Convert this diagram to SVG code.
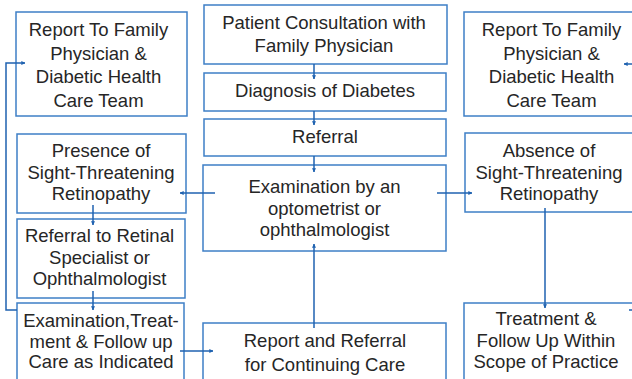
<svg xmlns="http://www.w3.org/2000/svg" width="632" height="379" viewBox="0 0 632 379">
<defs>
<marker id="ah" viewBox="0 0 6 6" refX="5.5" refY="3" markerWidth="4" markerHeight="4" orient="auto" markerUnits="userSpaceOnUse">
<path d="M0,0 L6,3 L0,6 Z" fill="#1f62b0"/>
</marker>
<style>
.box{fill:#ffffff;stroke:#3e7fc6;stroke-width:1.5}
.t{font-family:"Liberation Sans",Arial,sans-serif;font-size:18.5px;fill:#262626;text-anchor:middle}
.c{fill:none;stroke:#1f62b0;stroke-width:1.5;marker-end:url(#ah)}
</style>
</defs>
<rect width="632" height="379" fill="#ffffff"/>
<g id="report-left"><rect class="box" x="16" y="12" width="171" height="104"/>
<text class="t"><tspan x="98.5" y="36">Report To Family</tspan><tspan x="98.5" y="59.5">Physician &amp;</tspan><tspan x="98.5" y="83">Diabetic Health</tspan><tspan x="98.5" y="107">Care Team</tspan></text></g>
<g id="consultation"><rect class="box" x="204" y="5" width="243" height="59"/>
<text class="t"><tspan x="324" y="29">Patient Consultation with</tspan><tspan x="324" y="52">Family Physician</tspan></text></g>
<g id="diagnosis"><rect class="box" x="204" y="73" width="242" height="38"/>
<text class="t" x="325" y="97">Diagnosis of Diabetes</text></g>
<g id="referral"><rect class="box" x="204" y="119" width="242" height="37"/>
<text class="t" x="325" y="143">Referral</text></g>
<g id="examination"><rect class="box" x="203" y="165" width="243" height="86"/>
<text class="t"><tspan x="324.5" y="193">Examination by an</tspan><tspan x="324.5" y="214.5">optometrist or</tspan><tspan x="324.5" y="236">ophthalmologist</tspan></text></g>
<g id="report-referral"><rect class="box" x="203" y="323" width="243" height="70"/>
<text class="t"><tspan x="325" y="347">Report and Referral</tspan><tspan x="325" y="371">for Continuing Care</tspan></text></g>
<g id="report-right"><rect class="box" x="464" y="12" width="190" height="104"/>
<text class="t"><tspan x="551.5" y="36">Report To Family</tspan><tspan x="551.5" y="59.5">Physician &amp;</tspan><tspan x="551.5" y="83">Diabetic Health</tspan><tspan x="551.5" y="107">Care Team</tspan></text></g>
<g id="presence"><rect class="box" x="17" y="134" width="169" height="79"/>
<text class="t"><tspan x="101" y="157">Presence of</tspan><tspan x="101" y="178.5">Sight-Threatening</tspan><tspan x="101" y="200">Retinopathy</tspan></text></g>
<g id="absence"><rect class="box" x="465" y="133" width="190" height="79"/>
<text class="t"><tspan x="549" y="157">Absence of</tspan><tspan x="549" y="178.5">Sight-Threatening</tspan><tspan x="549" y="200">Retinopathy</tspan></text></g>
<g id="retinal-referral"><rect class="box" x="17" y="219" width="168" height="79"/>
<text class="t"><tspan x="99.5" y="242">Referral to Retinal</tspan><tspan x="99.5" y="263.5">Specialist or</tspan><tspan x="99.5" y="285">Ophthalmologist</tspan></text></g>
<g id="exam-treatment"><rect class="box" x="17" y="303" width="167" height="90"/>
<text class="t"><tspan x="101" y="327">Examination,Treat-</tspan><tspan x="101" y="347.5">ment &amp; Follow up</tspan><tspan x="101" y="368">Care as Indicated</tspan></text></g>
<g id="treatment"><rect class="box" x="464" y="303" width="190" height="90"/>
<text class="t"><tspan x="546" y="325">Treatment &amp;</tspan><tspan x="546" y="347">Follow Up Within</tspan><tspan x="546" y="368">Scope of Practice</tspan></text></g>
<g id="connectors">
<path class="c" d="M314,64 V79"/>
<path class="c" d="M314,111 V125"/>
<path class="c" d="M314,156 V172"/>
<path class="c" d="M215,193 H180"/>
<path class="c" d="M437,193 H472"/>
<path class="c" d="M314,328 V244"/>
<path class="c" d="M93,205 V225"/>
<path class="c" d="M93,291 V310"/>
<path class="c" d="M180,351 H213"/>
<path class="c" d="M17,310 H6 V63 H25"/>
<path class="c" d="M545,208 V308"/>
<path class="c" d="M629,310 H645 V64 H624"/>
</g>
</svg>
